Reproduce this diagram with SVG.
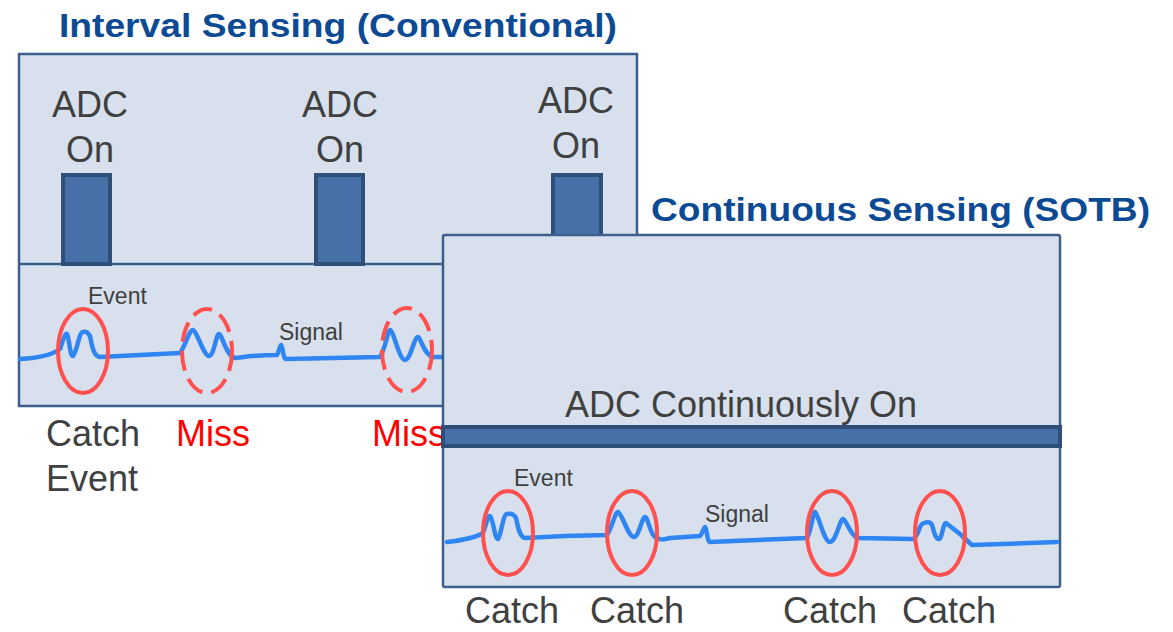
<svg xmlns="http://www.w3.org/2000/svg" width="1173" height="632" viewBox="0 0 1173 632">
  <style>
    .title { font-family: "Liberation Sans", Arial, sans-serif; font-weight: bold; font-size: 33px; fill: #0D4A94; }
    .lbl { font-family: "Liberation Sans", Arial, sans-serif; font-size: 36px; fill: #404040; }
    .small { font-family: "Liberation Sans", Arial, sans-serif; font-size: 23px; fill: #404040; }
    .miss { font-family: "Liberation Sans", Arial, sans-serif; font-size: 36px; fill: #FF0000; }
    .panel { fill: #D7E0EC; stroke: #3C5F8E; stroke-width: 2.5; }
    .divider { stroke: #3C5F8E; stroke-width: 2.5; fill: none; }
    .bar { fill: #4570A8; stroke: #2F4E78; stroke-width: 4; }
    .wave { fill: none; stroke: #2F86F2; stroke-width: 4.5; stroke-linejoin: round; stroke-linecap: round; }
    .ring { fill: none; stroke: #FF5050; stroke-width: 4; }
    .ring-dash { fill: none; stroke: #FF5050; stroke-width: 4; stroke-dasharray: 20 9; }
  </style>

  <rect width="1173" height="632" fill="#FFFFFF"/>

  <!-- Interval sensing panel -->
  <g id="interval">
    <text class="title" x="59" y="37" textLength="558" lengthAdjust="spacingAndGlyphs">Interval Sensing (Conventional)</text>
    <rect class="panel" x="19" y="54" width="618" height="352"/>
    <line class="divider" x1="19" y1="264" x2="637" y2="264"/>

    <g id="adc-on-1">
      <rect class="bar" x="63" y="175" width="47" height="89"/>
      <text class="lbl" x="90" y="117" text-anchor="middle">ADC</text>
      <text class="lbl" x="90" y="162" text-anchor="middle">On</text>
    </g>
    <g id="adc-on-2">
      <rect class="bar" x="316" y="175" width="47" height="89"/>
      <text class="lbl" x="340" y="117" text-anchor="middle">ADC</text>
      <text class="lbl" x="340" y="162" text-anchor="middle">On</text>
    </g>
    <g id="adc-on-3">
      <rect class="bar" x="553" y="175" width="48" height="89"/>
      <text class="lbl" x="576" y="113" text-anchor="middle">ADC</text>
      <text class="lbl" x="576" y="158" text-anchor="middle">On</text>
    </g>

    <path class="wave" d="M 20 359 C 40 358, 52 355, 60 349 C 63 340, 65 333, 67 334 C 69 336, 70 357, 73 356 C 77 352, 79 332, 83 332 C 87 331, 88 333, 90 336 C 92 345, 93 356, 100 357 L 140 355 L 180 353 C 186 345, 189 330, 193 330 C 197 331, 203 355, 209 356 C 214 356, 216 334, 219 334 C 222 334, 226 356, 235 358 C 245 357, 255 355, 277 355 C 279 352, 280 345, 281 345 C 283 346, 283 359, 286 359 L 380 357 C 385 350, 388 330, 390 330 C 394 331, 399 360, 405 360 C 411 359, 414 337, 418 337 C 421 338, 424 355, 433 357 L 443 357"/>
    <text class="small" x="88" y="304">Event</text>
    <text class="small" x="279" y="340">Signal</text>

    <ellipse class="ring" cx="83" cy="351" rx="25" ry="42"/>
    <ellipse class="ring-dash" cx="207" cy="351" rx="25" ry="42"/>
    <ellipse class="ring-dash" cx="407" cy="350" rx="25" ry="42"/>

    <text class="lbl" x="46" y="446">Catch</text>
    <text class="lbl" x="46" y="491">Event</text>
    <text class="miss" x="176" y="446">Miss</text>
    <text class="miss" x="372" y="446">Miss</text>
  </g>

  <!-- Continuous sensing panel -->
  <g id="continuous">
    <text class="title" x="651" y="221" textLength="499" lengthAdjust="spacingAndGlyphs">Continuous Sensing (SOTB)</text>
    <rect class="panel" x="443" y="235" width="617" height="352" rx="2"/>
    <g id="adc-continuous">
      <rect class="bar" x="443" y="427" width="617" height="19"/>
      <text class="lbl" x="741" y="417" text-anchor="middle">ADC Continuously On</text>
    </g>

    <path class="wave" d="M 447 542 C 465 540, 475 538, 483 533 C 486 525, 488 515, 490 516 C 493 518, 495 540, 498 539 C 501 536, 503 514, 507 514 C 511 513, 514 514, 516 518 C 518 526, 519 537, 525 538 L 565 536 L 607 535 C 612 528, 615 512, 618 512 C 622 513, 628 537, 634 537 C 639 537, 642 517, 645 517 C 648 517, 650 534, 655 537 C 660 540, 663 540, 670 538 L 700 536 C 702 534, 704 527, 705 527 C 707 528, 707 542, 710 542 L 807 538 C 811 532, 813 512, 815 512 C 818 513, 824 542, 830 542 C 836 542, 840 519, 843 519 C 846 519, 849 533, 857 538 L 913 539 C 918 538, 919 526, 922 524 C 926 522, 930 521, 932 525 C 934 531, 935 539, 939 539 C 942 539, 943 523, 946 523 L 960 534 L 972 545 L 1057 542"/>
    <text class="small" x="514" y="486">Event</text>
    <text class="small" x="705" y="522">Signal</text>

    <ellipse class="ring" cx="508" cy="533" rx="25" ry="42"/>
    <ellipse class="ring" cx="632" cy="533" rx="25" ry="42"/>
    <ellipse class="ring" cx="832" cy="533" rx="25" ry="42"/>
    <ellipse class="ring" cx="940" cy="533" rx="25" ry="42"/>

    <text class="lbl" x="465" y="623">Catch</text>
    <text class="lbl" x="590" y="623">Catch</text>
    <text class="lbl" x="783" y="623">Catch</text>
    <text class="lbl" x="902" y="623">Catch</text>
  </g>
</svg>
